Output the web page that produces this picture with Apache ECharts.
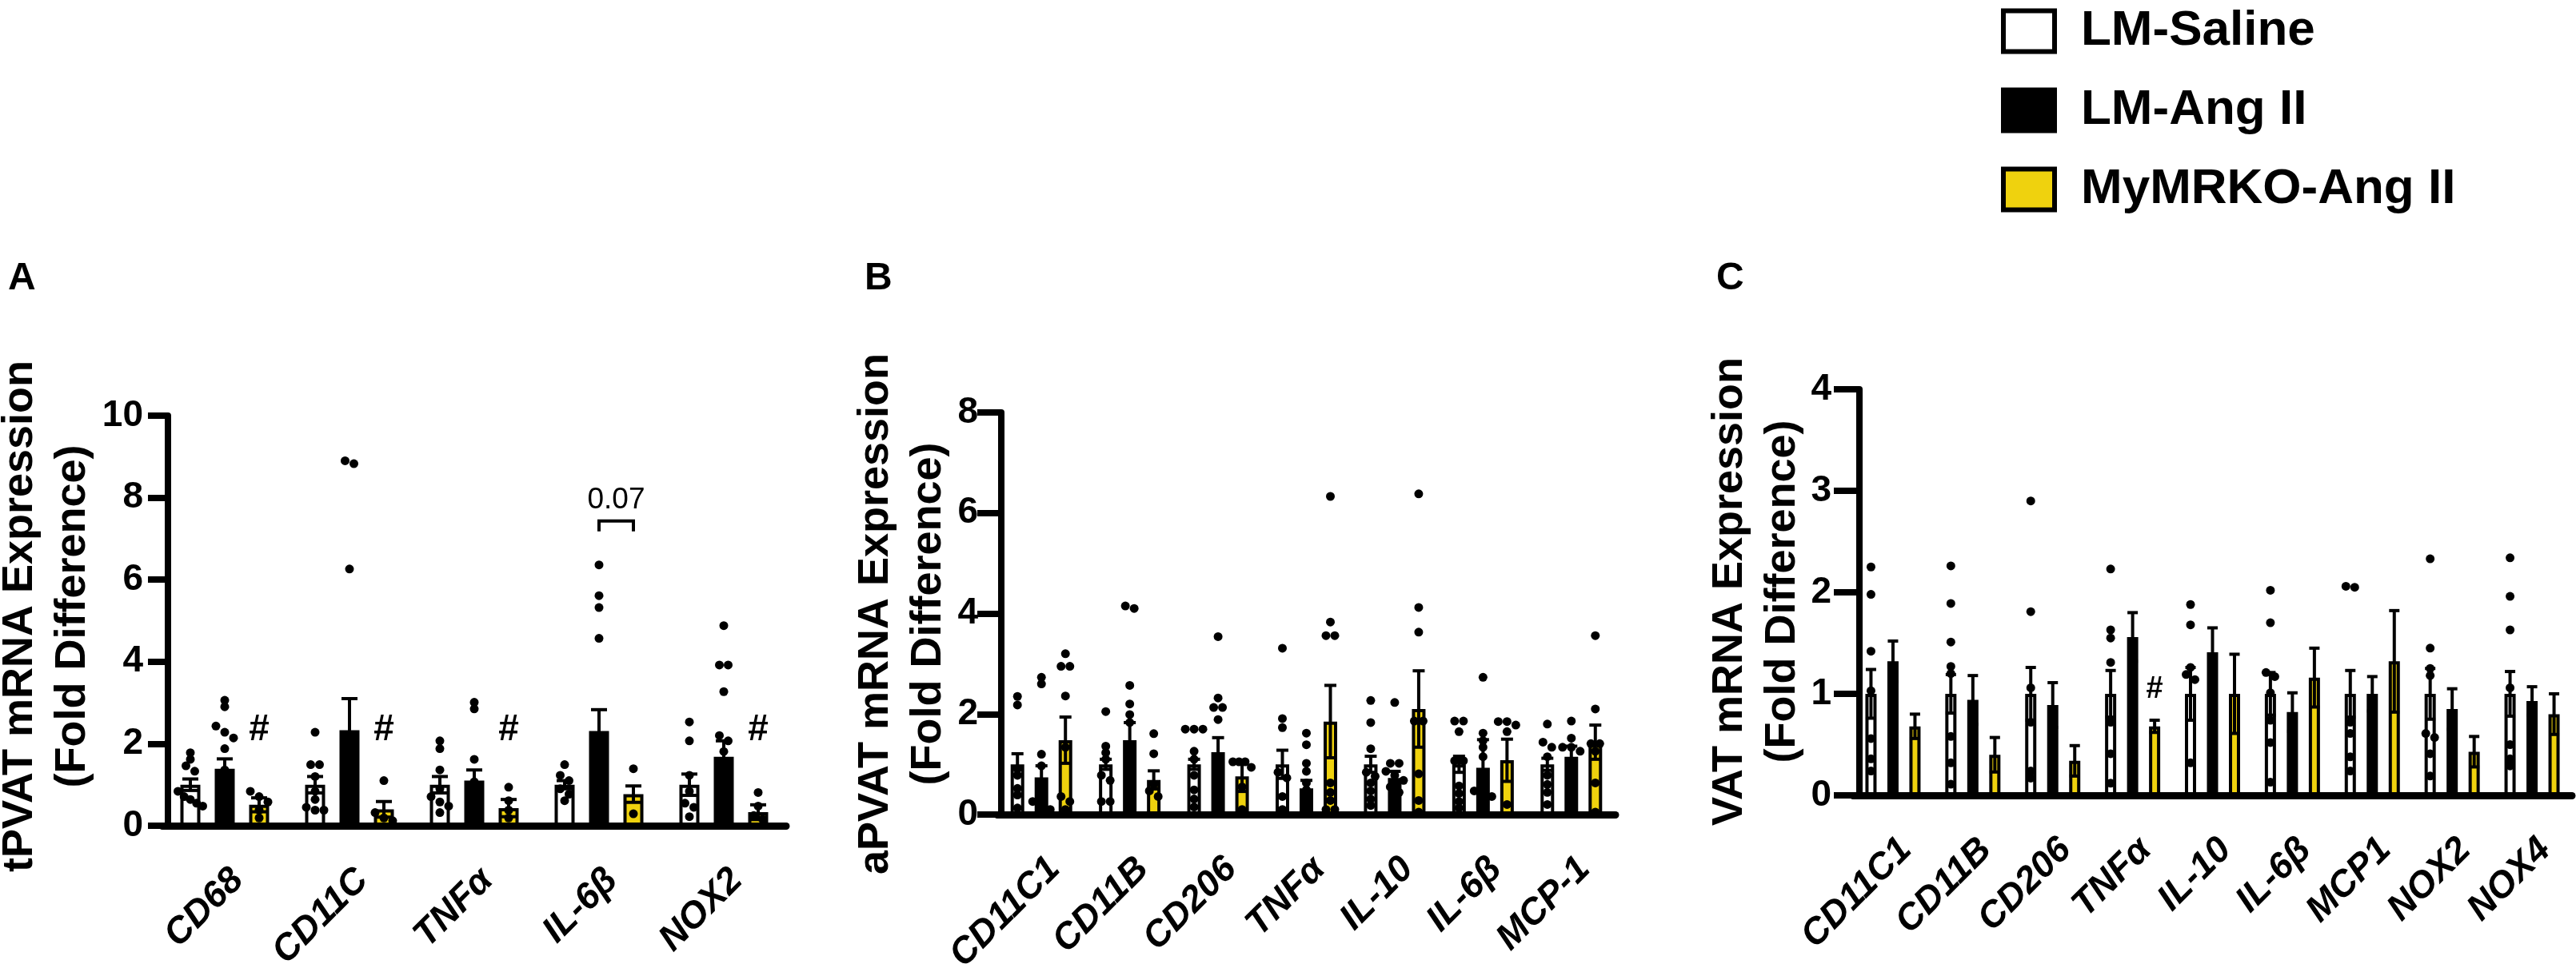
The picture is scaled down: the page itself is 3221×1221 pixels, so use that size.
<!DOCTYPE html>
<html><head><meta charset="utf-8">
<script src="https://cdn.jsdelivr.net/npm/echarts@6/dist/echarts.min.js"></script>
<style>html,body{margin:0;padding:0;background:#fff}#c{width:3221px;height:1221px}</style>
</head><body><div id="c"></div>
<script>
// ---------------- DATA ----------------
const groups = ['LM-Saline', 'LM-Ang II', 'MyMRKO-Ang II'];

// Panel A: tPVAT
const catsA = ['CD68', 'CD11C', 'TNFα', 'IL-6β', 'NOX2'];
const yTicksA = [0, 2, 4, 6, 8, 10];
const A_sal_mean = [1.0, 1.0, 1.0, 1.0, 1.0];
const A_sal_sem  = [0.14, 0.2, 0.2, 0.1, 0.26];
const A_ang_mean = [1.39, 2.33, 1.10, 2.31, 1.68];
const A_ang_sem  = [0.24, 0.77, 0.26, 0.52, 0.39];
const A_ko_mean  = [0.51, 0.40, 0.43, 0.77, 0.33];
const A_ko_sem   = [0.17, 0.19, 0.21, 0.2, 0.18];
const A_sal_dots = [[1.78,1.62,1.46,1.33,0.84,0.71,0.64,0.55,0.48],[2.28,1.49,1.49,1.2,0.84,0.64,0.45,0.38,0.38],[2.07,1.88,1.36,0.9,0.71,0.58,0.48,0.32],[1.49,1.23,1.1,0.9,0.77,0.61],[2.53,2.07,1.23,0.84,0.55,0.45,0.22]];
const A_ang_dots = [[3.06,2.9,2.43,2.28,2.14,1.88,1.36,1.16,0.94,0.77,0.71,0.51],[8.9,8.83,6.26,1.16,0.97,0.77,0.45,0.38],[3.01,2.85,1.62,1.07,0.77,0.51,0.45],[6.36,5.61,5.32,4.57],[4.88,3.92,3.92,3.27,2.2,2.07,1.81,0.45]];
const A_ko_dots  = [[0.84,0.71,0.58,0.38,0.19],[1.1,0.32,0.19,0.12],[0.94,0.61,0.38,0.19],[1.39,0.29],[0.81,0.48,0.25,0.16]];
const A_hash = ['CD68', 'CD11C', 'TNFα', 'NOX2'];
const A_pText = '0.07'; const A_pCat = 'IL-6β';

// Panel B: aPVAT
const catsB = ['CD11C1', 'CD11B', 'CD206', 'TNFα', 'IL-10', 'IL-6β', 'MCP-1'];
const yTicksB = [0, 2, 4, 6, 8];
const B_sal_mean = [1, 1, 1, 1, 1, 1, 1];
const B_sal_sem  = [0.21, 0.1, 0.1, 0.28, 0.16, 0.16, 0.12];
const B_ang_mean = [0.74, 1.48, 1.24, 0.52, 0.73, 0.93, 1.15];
const B_ang_sem  = [0.23, 0.35, 0.29, 0.16, 0.13, 0.56, 0.21];
const B_ko_mean  = [1.48, 0.69, 0.76, 1.85, 2.1, 1.08, 1.44];
const B_ko_sem   = [0.46, 0.18, 0.3, 0.72, 0.76, 0.42, 0.34];
const B_sal_dots = [[2.35,2.18,0.91,0.78,0.52,0.39,0.13],[2.05,1.36,1.23,1.1,0.78,0.68,0.26,0.26],[1.7,1.7,1.7,1.26,1.1,0.78,0.49,0.31,0.15],[3.31,1.91,1.73,0.84,0.73,0.36,0.1],[2.27,1.83,1.31,0.84,0.76,0.63,0.47,0.31,0.18],[1.86,1.86,1.65,1.07,1.07,0.57,0.42,0.26,0.13],[1.8,1.44,1.34,1.15,0.78,0.6,0.44,0.2]];
const B_ang_dots = [[2.73,2.6,1.2,0.97,0.26,0.2,0.1],[4.15,4.1,2.57,2.2,1.99,1.83,0.78,0.18],[3.54,2.32,2.13,2.13,1.89,0.99,0.78,0.34],[1.62,1.39,1.02,0.86,0.63,0.49,0.1],[2.23,1.02,1.02,0.86,0.78,0.68,0.55,0.44,0.31],[2.73,1.62,1.47,1.34,1.15,0.47,0.47,0.36],[1.86,1.52,1.34,1.34,1.26,0.63]];
const B_ko_dots  = [[3.2,2.95,2.95,2.36,1.34,0.36,0.26,0.1],[1.61,1.21,0.6,0.47,0.36],[1.05,1.05,1.05,0.94,0.55,0.1],[6.33,3.83,3.56,3.56,0.63,0.44,0.28,0.1,0.1],[6.38,4.12,3.63,1.86,1.86,0.81,0.28,0.05],[1.85,1.85,1.78,1.65,0.2],[3.56,2.1,1.41,1.41,1.26,0.63,0.05]];

// Panel C: VAT
const catsC = ['CD11C1', 'CD11B', 'CD206', 'TNFα', 'IL-10', 'IL-6β', 'MCP1', 'NOX2', 'NOX4'];
const yTicksC = [0, 1, 2, 3, 4];
const C_sal_mean = [1, 1, 1, 1, 1, 1, 1, 1, 1];
const C_sal_sem  = [0.24, 0.19, 0.26, 0.23, 0.26, 0.21, 0.23, 0.25, 0.22];
const C_ang_mean = [1.32, 0.94, 0.89, 1.56, 1.41, 0.82, 1.0, 0.85, 0.93];
const C_ang_sem  = [0.2, 0.24, 0.22, 0.24, 0.24, 0.19, 0.17, 0.2, 0.14];
const C_ko_mean  = [0.68, 0.4, 0.34, 0.68, 1.0, 1.16, 1.32, 0.43, 0.8];
const C_ko_sem   = [0.12, 0.17, 0.15, 0.06, 0.39, 0.29, 0.5, 0.15, 0.2];
const C_sal_dots = [[2.25,1.98,1.42,1.03,0.56,0.36,0.24],[2.26,1.89,1.51,1.27,1.2,0.58,0.32,0.11],[2.9,1.81,1.06,0.72,0.24,0.17],[2.23,1.63,1.55,1.31,0.72,0.41,0.12],[1.88,1.68,1.26,1.19,1.14,0.32],[2.02,1.7,1.21,1.17,1.01,0.74,0.52,0.13],[2.06,2.05,0.72,0.61,0.38,0.24],[2.33,1.45,1.25,1.18,0.61,0.57,0.41,0.19],[2.34,1.96,1.63,1.06,0.5,0.36,0.29]];
const C_hash = ['TNFα'];

// ---------------- LAYOUT / STYLE ----------------
const FONT = '"Liberation Sans", Arial, Helvetica, sans-serif';
const FILLS = ['#ffffff', '#000000', '#EFD20E'];
const panels = [
  { cats: catsA, ticks: yTicksA, mean: [A_sal_mean, A_ang_mean, A_ko_mean], sem: [A_sal_sem, A_ang_sem, A_ko_sem],
    dots: [A_sal_dots, A_ang_dots, A_ko_dots], grid: { left: 203, top: 520, width: 780, height: 513 }, yOff: -7,
    yTick: 25, yMargin: 31, barW: 25, step: 43, cap: 20, hash: A_hash, hashLevel: 2.2, hashSize: 46,
    label: 'A', labelX: 10, title: 'tPVAT mRNA Expression\n(Fold Difference)', titleX: 58, titleY: 771 },
  { cats: catsB, ticks: yTicksB, mean: [B_sal_mean, B_ang_mean, B_ko_mean], sem: [B_sal_sem, B_ang_sem, B_ko_sem],
    dots: [B_sal_dots, B_ang_dots, B_ko_dots], grid: { left: 1247, top: 516, width: 773, height: 507 }, yOff: -5,
    yTick: 30, yMargin: 29, barW: 17, step: 30, cap: 15, hash: [], hashLevel: 0, hashSize: 40,
    label: 'B', labelX: 1081, title: 'aPVAT mRNA Expression\n(Fold Difference)', titleX: 1128, titleY: 768 },
  { cats: catsC, ticks: yTicksC, mean: [C_sal_mean, C_ang_mean, C_ko_mean], sem: [C_sal_sem, C_ang_sem, C_ko_sem],
    dots: [C_sal_dots, null, null], grid: { left: 2317, top: 487, width: 899, height: 508 }, yOff: -8,
    yTick: 32, yMargin: 35, barW: 14, step: 27.5, cap: 13, hash: C_hash, hashLevel: 1.0, hashSize: 38,
    label: 'C', labelX: 2146, title: 'VAT mRNA Expression\n(Fold Difference)', titleX: 2196, titleY: 740 }
];

function slotDots(vals, pxPerUnit) {
  const s = vals.slice().sort((a, b) => b - a);
  const out = [];
  let cl = [];
  const flush = () => cl.forEach((v, k) => out.push([v, k, cl.length]));
  s.forEach(v => {
    if (cl.length && (cl[cl.length - 1] - v) * pxPerUnit >= 8) { flush(); cl = []; }
    cl.push(v);
  });
  flush();
  return out;
}

const grids = [], xAxes = [], yAxes = [], series = [], graphics = [];
panels.forEach((P, p) => {
  grids.push(Object.assign({ containLabel: false }, P.grid));
  const ymax = P.ticks[P.ticks.length - 1];
  const pxPerUnit = P.grid.height / ymax;
  xAxes.push({
    gridIndex: p, type: 'category', data: P.cats,
    axisLine: { lineStyle: { color: '#000', width: 9 } },
    axisTick: { alignWithLabel: true, length: 29, lineStyle: { color: '#000', width: 8 } },
    axisLabel: { rotate: 45, interval: 0, align: 'right', verticalAlign: 'top', fontSize: 46, fontWeight: 'bold', fontStyle: 'italic', fontFamily: FONT, color: '#000', margin: 45 },
    splitLine: { show: false }
  });
  yAxes.push({
    gridIndex: p, type: 'value', min: P.ticks[0], max: ymax, interval: P.ticks[1] - P.ticks[0], offset: P.yOff,
    axisLine: { show: true, lineStyle: { color: '#000', width: 8 } },
    axisTick: { show: true, length: P.yTick, lineStyle: { color: '#000', width: 8 } },
    axisLabel: { fontSize: 46, fontWeight: 'bold', fontFamily: FONT, color: '#000', margin: P.yMargin },
    splitLine: { show: false }
  });
  const gap = ((P.step - P.barW) / P.barW * 100).toFixed(1) + '%';
  for (let g = 0; g < 3; g++) {
    series.push({
      name: groups[g], type: 'bar', xAxisIndex: p, yAxisIndex: p, barWidth: P.barW, barGap: gap,
      data: P.mean[g], silent: true, z: 2, animation: false,
      itemStyle: { color: FILLS[g], borderColor: '#000', borderWidth: 4 }
    });
  }
  for (let g = 0; g < 3; g++) {
    const off = (g - 1) * P.step;
    const cap = P.cap;
    series.push({
      type: 'custom', xAxisIndex: p, yAxisIndex: p, z: 4, silent: true, animation: false,
      encode: { x: 0, y: 1 },
      data: P.cats.map((c, i) => [c, P.mean[g][i], P.sem[g][i]]),
      renderItem(params, api) {
        const ci = api.value(0), m = api.value(1), s = api.value(2);
        const t = api.coord([ci, m + s]), b = api.coord([ci, Math.max(0, m - s)]);
        const x = t[0] + off;
        const st = { stroke: '#000', lineWidth: 4 };
        return { type: 'group', children: [
          { type: 'line', shape: { x1: x, y1: t[1], x2: x, y2: b[1] }, style: st },
          { type: 'line', shape: { x1: x - cap / 2, y1: t[1], x2: x + cap / 2, y2: t[1] }, style: st },
          { type: 'line', shape: { x1: x - cap / 2, y1: b[1], x2: x + cap / 2, y2: b[1] }, style: st }
        ] };
      }
    });
  }
  for (let g = 0; g < 3; g++) {
    if (!P.dots[g]) continue;
    const off = (g - 1) * P.step;
    const data = [];
    P.dots[g].forEach((vals, i) => slotDots(vals, pxPerUnit).forEach(d => data.push([P.cats[i], d[0], d[1], d[2]])));
    series.push({
      type: 'custom', xAxisIndex: p, yAxisIndex: p, z: 5, silent: true, animation: false,
      encode: { x: 0, y: 1 }, data,
      renderItem(params, api) {
        const c = api.coord([api.value(0), api.value(1)]);
        const k = api.value(2), n = api.value(3);
        const dx = Math.min(11, (P.barW + 6) / Math.max(1, n - 1));
        return { type: 'circle', shape: { cx: c[0] + off + (k - (n - 1) / 2) * dx, cy: c[1], r: 5.5 }, style: { fill: '#000' } };
      }
    });
  }
  if (P.hash.length) {
    series.push({
      type: 'custom', xAxisIndex: p, yAxisIndex: p, z: 6, silent: true, animation: false,
      encode: { x: 0, y: 1 }, data: P.hash.map(c => [c, P.hashLevel]),
      renderItem(params, api) {
        const c = api.coord([api.value(0), api.value(1)]);
        return { type: 'group', children: [
          { type: 'text', x: c[0] + P.step, y: c[1] + P.hashSize * 0.36,
            style: { text: '#', fontSize: P.hashSize, fontWeight: 'bold', fontFamily: FONT, fill: '#000', align: 'center', verticalAlign: 'bottom' } }
        ] };
      }
    });
  }
  graphics.push({ type: 'text', left: P.labelX, top: 325, style: { text: P.label, fontSize: 48, fontWeight: 'bold', fontFamily: FONT, fill: '#000' } });
  graphics.push({ type: 'text', x: P.titleX, y: P.titleY, rotation: Math.PI / 2,
    style: { text: P.title, fontSize: 54, fontWeight: 'bold', fontFamily: FONT, fill: '#000', align: 'center', verticalAlign: 'middle', lineHeight: 66 } });
});

// p-value bracket in panel A (between LM-Ang II and MyMRKO-Ang II)
series.push({
  type: 'custom', xAxisIndex: 0, yAxisIndex: 0, z: 6, silent: true, animation: false,
  encode: { x: 0, y: 1 }, data: [[A_pCat, 7.43]],
  renderItem(params, api) {
    const c = api.coord([api.value(0), api.value(1)]);
    const x1 = c[0], x2 = c[0] + panels[0].step, y = c[1];
    const st = { stroke: '#000', lineWidth: 4, fill: null };
    return { type: 'group', children: [
      { type: 'polyline', shape: { points: [[x1, y + 13], [x1, y], [x2, y], [x2, y + 13]] }, style: st },
      { type: 'text', x: (x1 + x2) / 2, y: y - 8, style: { text: A_pText, fontSize: 37, fontFamily: FONT, fill: '#000', align: 'center', verticalAlign: 'bottom' } }
    ] };
  }
});

const chart = echarts.init(document.getElementById('c'), null, { renderer: 'canvas' });
chart.setOption({
  backgroundColor: '#fff',
  animation: false,
  grid: grids, xAxis: xAxes, yAxis: yAxes, series,
  graphic: graphics,
  legend: {
    orient: 'vertical', left: 2497, top: 3, icon: 'rect', itemWidth: 64, itemHeight: 51, itemGap: 37,
    selectedMode: false,
    textStyle: { fontSize: 62, fontWeight: 'bold', fontFamily: FONT, color: '#000', lineHeight: 57, padding: [0, 0, 0, 28] },
    data: [
      { name: 'LM-Saline', itemStyle: { color: '#fff', borderColor: '#000', borderWidth: 6 } },
      { name: 'LM-Ang II', itemStyle: { color: '#000', borderColor: '#000', borderWidth: 6 } },
      { name: 'MyMRKO-Ang II', itemStyle: { color: '#EFD20E', borderColor: '#000', borderWidth: 6 } }
    ]
  }
});
</script></body></html>
